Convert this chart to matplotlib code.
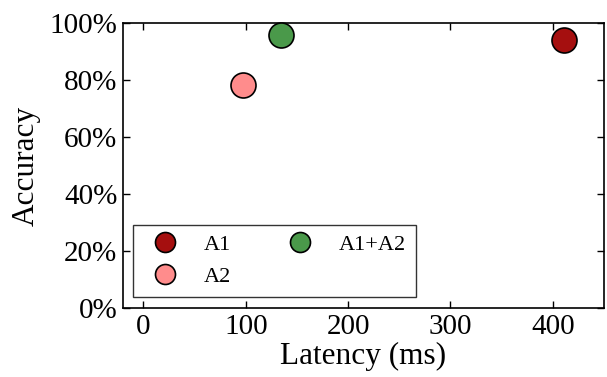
import matplotlib
matplotlib.use("Agg")
import matplotlib.pyplot as plt
from matplotlib.ticker import FuncFormatter

plt.rcParams['font.family'] = ['Liberation Serif', 'DejaVu Serif']

labels = ["A1", "A2", "A1+A2"]
latency_ms = [410.5, 97.5, 134.5]
accuracy = [0.940, 0.782, 0.958]
colors = ["#a50f0f", "#ff8c8c", "#4a994a"]

fig = plt.figure(figsize=(6.07, 3.77), dpi=100)
ax = fig.add_axes([123 / 607, 1 - 308 / 377, (604 - 123) / 607, (308 - 23) / 377])

for lab, x, y, c in zip(labels, latency_ms, accuracy, colors):
    ax.plot([x], [y], "o", markersize=18, markerfacecolor=c,
            markeredgecolor="black", markeredgewidth=1.2, label=lab,
            linestyle="none", clip_on=False, zorder=3)

ax.set_xlim(-20, 450)
ax.set_ylim(0, 1.0)
ax.set_xticks([0, 100, 200, 300, 400])
ax.set_yticks([0, 0.2, 0.4, 0.6, 0.8, 1.0])
ax.yaxis.set_major_formatter(FuncFormatter(lambda v, p: f"{v * 100:.0f}%"))
ax.tick_params(direction="in", top=True, right=True, length=5, width=1,
               labelsize=21, pad=4)
for s in ax.spines.values():
    s.set_linewidth(1.2)

ax.set_xlabel("Latency (ms)", fontsize=22.5, labelpad=2)
ax.set_ylabel("Accuracy", fontsize=22.5, labelpad=6)

leg = ax.legend(loc="lower left", ncol=2, fontsize=16, markerscale=0.8,
                frameon=True, fancybox=False, edgecolor="black",
                borderaxespad=0.0, bbox_to_anchor=(0.021, 0.039),
                columnspacing=2.1, handletextpad=0.75, handlelength=2.0,
                borderpad=0.45, labelspacing=0.5, numpoints=1)
leg.get_frame().set_linewidth(1.0)

fig.savefig("out.png", dpi=100)
